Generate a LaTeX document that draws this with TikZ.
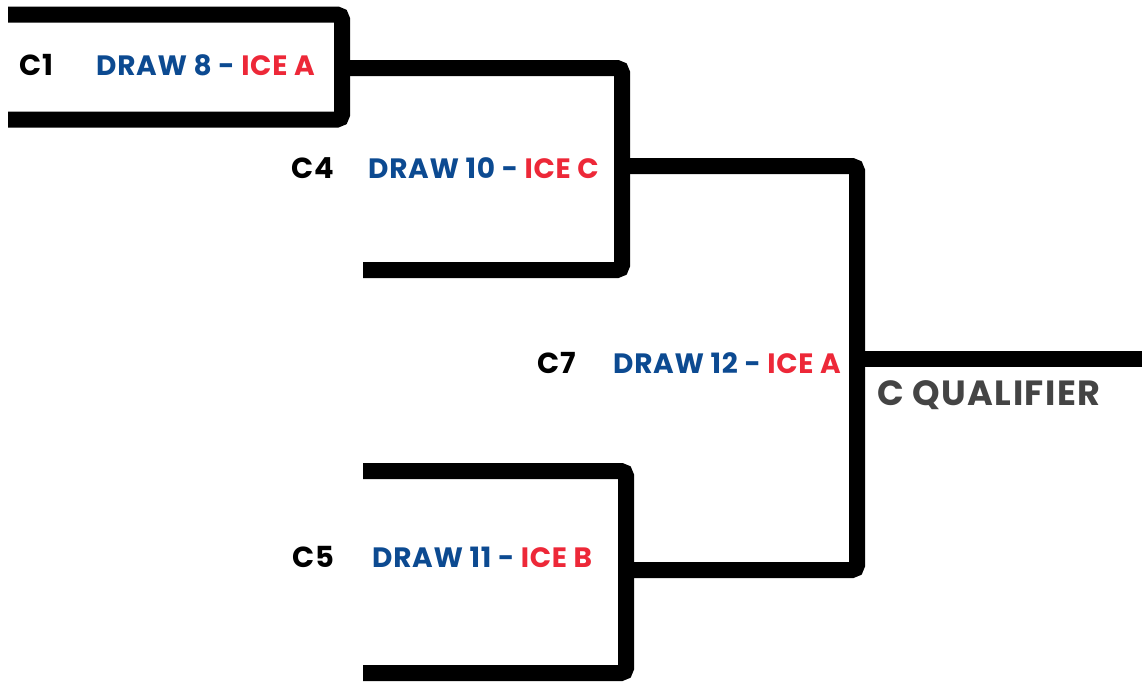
\documentclass[tikz,border=0pt]{standalone}
\usepackage{fontspec}
\setmainfont{Poppins}
\definecolor{drawblue}{RGB}{12,74,145}
\definecolor{icered}{RGB}{237,40,56}
\definecolor{qualgray}{RGB}{68,68,68}
\begin{document}
\begin{tikzpicture}[x=1pt,y=-1pt,
  bline/.style={line width=16pt,black,rounded corners=5pt,line cap=butt},
  lbl/.style={anchor=base west,inner sep=0pt,font=\fontsize{29}{30}\selectfont\bfseries\addfontfeature{LetterSpace=3}},
  game/.style={anchor=base west,inner sep=0pt,font=\fontsize{28}{30}\selectfont\bfseries\addfontfeature{LetterSpace=2.5}}]
\useasboundingbox (0,0) rectangle (1142,681);
% coordinates
\coordinate (a1) at (8,14.5);
\coordinate (a2) at (342,14.5);
\coordinate (a3) at (342,119.5);
\coordinate (a4) at (8,119.5);
\coordinate (b1) at (342,68);
\coordinate (b2) at (622,68);
\coordinate (b3) at (622,270);
\coordinate (b4) at (363,270);
\coordinate (c1) at (363,471);
\coordinate (c2) at (626,471);
\coordinate (c3) at (626,673);
\coordinate (c4) at (363,673);
\coordinate (d1) at (622,166);
\coordinate (d2) at (857,166);
\coordinate (d3) at (857,570);
\coordinate (d4) at (626,570);
\coordinate (e1) at (857,359);
\coordinate (e2) at (1142,359);
% bracket lines
\draw[bline] (a4) -- (a3) -- (a2) -- (a1);
\draw[bline] (b1) -- (b2) -- (b3) -- (b4);
\draw[bline] (c1) -- (c2) -- (c3) -- (c4);
\draw[bline] (d1) -- (d2) -- (d3) -- (d4);
\draw[bline] (e1) -- (e2);
% labels
\node[lbl] (lc1) at (19,75) {C1};
\node[game] (g1) at (96,75) {\textcolor{drawblue}{DRAW 8 -} \textcolor{icered}{ICE A}};
\node[lbl] (lc4) at (291,178) {C4};
\node[game] (g4) at (368,178) {\textcolor{drawblue}{DRAW 10 -} \textcolor{icered}{ICE C}};
\node[lbl] (lc7) at (537,373) {C7};
\node[game] (g7) at (613,373) {\textcolor{drawblue}{DRAW 12 -} \textcolor{icered}{ICE A}};
\node[lbl] (lc5) at (292,567) {C5};
\node[game] (g5) at (372,567) {\textcolor{drawblue}{DRAW 11 -} \textcolor{icered}{ICE B}};
\node[anchor=base west,inner sep=0pt,font=\fontsize{35}{38}\selectfont\bfseries\addfontfeature{LetterSpace=4},text=qualgray] (q) at (877,405) {C QUALIFIER};
\end{tikzpicture}
\end{document}
